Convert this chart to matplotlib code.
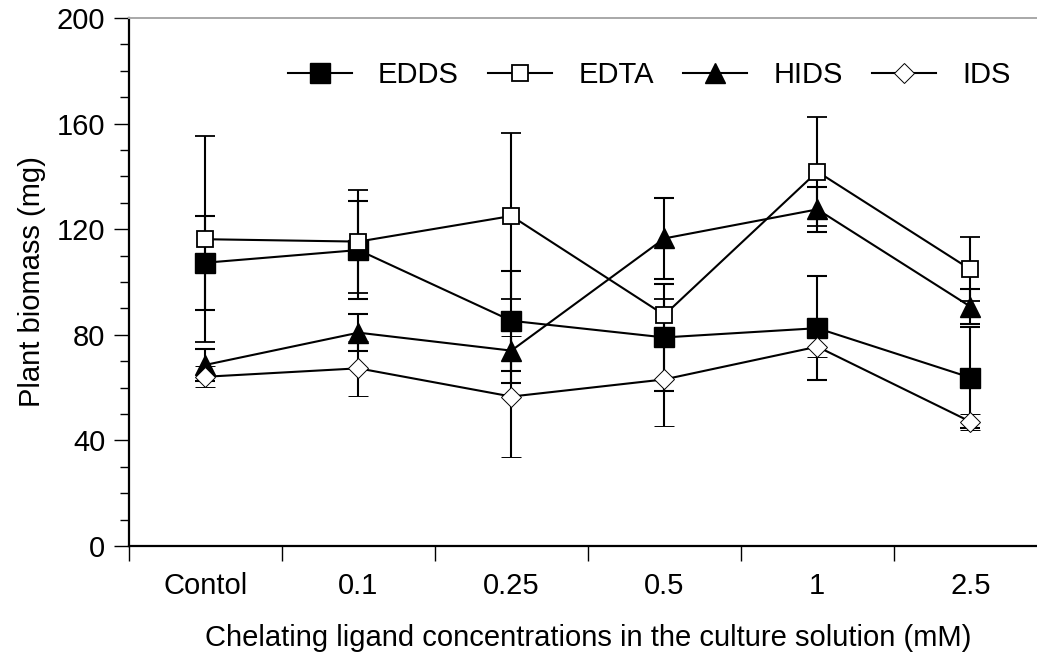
import numpy as np
import matplotlib
matplotlib.use('Agg')
import matplotlib.pyplot as plt
from matplotlib.ticker import MultipleLocator
from matplotlib.lines import Line2D

plt.rcParams['font.family'] = ['Liberation Sans', 'DejaVu Sans']

categories = ['Contol', '0.1', '0.25', '0.5', '1', '2.5']

edds = [107.3, 112.1, 85.3, 79.0, 82.5, 63.8]
edds_err = [17.8, 18.5, 19.0, 20.2, 19.8, 19.0]
edta = [116.2, 115.3, 125.0, 87.5, 141.8, 104.8]
edta_err = [39.0, 19.5, 31.3, 6.0, 20.6, 12.1]
hids = [68.6, 80.8, 74.0, 116.5, 127.5, 90.7]
hids_err = [6.2, 7.0, 12.4, 15.2, 8.5, 6.5]
ids = [64.1, 67.3, 56.6, 63.1, 75.5, 47.1]
ids_err = [4.0, 10.4, 23.0, 17.6, 4.0, 3.0]

fs = 21
lw = 1.5
fig = plt.figure(figsize=(10.37, 6.59), dpi=100)
ax = fig.add_axes([0.1244, 0.1715, 0.885, 0.8012])

x = np.arange(len(categories)) + 0.5

styles = [
    ('EDDS', edds, edds_err, dict(marker='s', ms=14, mfc='black', mec='black')),
    ('EDTA', edta, edta_err, dict(marker='s', ms=12, mfc='white', mec='black', mew=1.3)),
    ('HIDS', hids, hids_err, dict(marker='^', ms=14, mfc='black', mec='black')),
    ('IDS', ids, ids_err, dict(marker='D', ms=10, mfc='white', mec='black', mew=0.7)),
]

handles = []
for name, vals, err, mk in styles:
    ax.errorbar(x, vals, yerr=err, color='black', lw=lw, capsize=7,
                elinewidth=lw, capthick=lw, **mk)
    handles.append(Line2D([], [], color='black', lw=lw, label=name, **mk))

ax.set_xlim(0, 6)
ax.set_ylim(0, 200)

# boundary ticks (major) and category labels (minor)
ax.set_xticks(np.arange(0, 7))
ax.set_xticklabels([''] * 7)
ax.set_xticks(x, minor=True)
ax.set_xticklabels(categories, minor=True)
ax.tick_params(axis='x', which='major', direction='out', length=11, width=1)
ax.tick_params(axis='x', which='minor', length=0, pad=19, labelsize=fs)

ax.yaxis.set_major_locator(MultipleLocator(40))
ax.yaxis.set_minor_locator(MultipleLocator(10))
ax.tick_params(axis='y', which='major', direction='out', length=11, width=1,
               pad=6, labelsize=fs)
ax.tick_params(axis='y', which='minor', direction='out', length=6.5, width=1)

ax.spines['left'].set_linewidth(1.6)
ax.spines['bottom'].set_linewidth(1.6)
ax.spines['top'].set_color('#a8a8a8')
ax.spines['top'].set_linewidth(1.4)
ax.spines['right'].set_visible(False)

ax.set_ylabel('Plant biomass (mg)', fontsize=fs, labelpad=8)
ax.set_xlabel('Chelating ligand concentrations in the culture solution (mM)',
              fontsize=fs, labelpad=17)

ax.legend(handles=handles, loc='upper left', bbox_to_anchor=(0.16, 0.94), ncol=4,
          frameon=False, fontsize=fs, handlelength=2.2,
          handletextpad=0.9, columnspacing=1.0, borderaxespad=0)

fig.savefig('out.png', dpi=100)
